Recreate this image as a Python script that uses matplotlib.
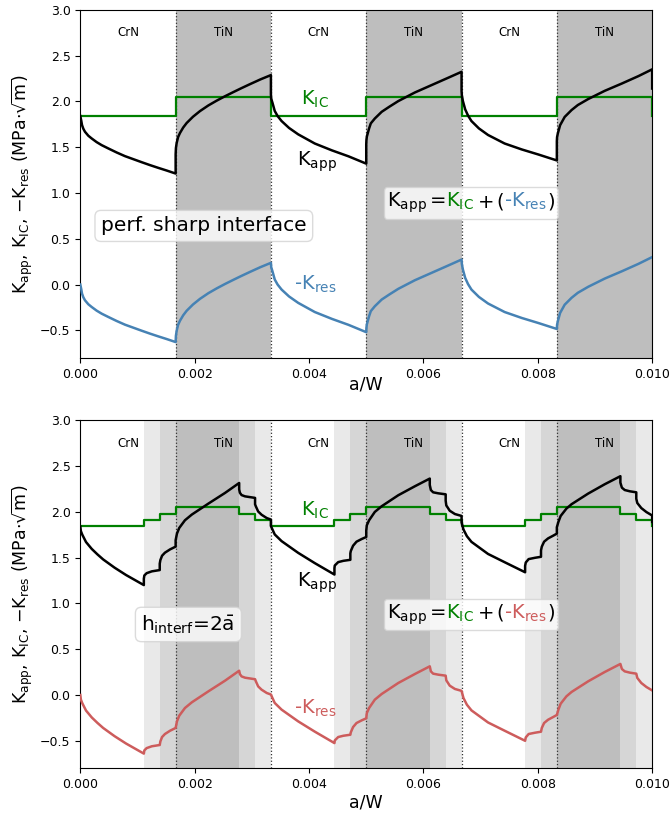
import matplotlib
matplotlib.use("Agg")
import matplotlib.pyplot as plt
import numpy as np
from matplotlib.offsetbox import TextArea, HPacker, AnnotationBbox

# layer boundaries (interfaces), a/W
interfaces = [0.001667, 0.003333, 0.005, 0.006667, 0.008333]
layer_names = ["CrN", "TiN", "CrN", "TiN", "CrN", "TiN"]
layer_centers = [0.000833, 0.0025, 0.004167, 0.005833, 0.0075, 0.009167]

# ---- top panel: perfectly sharp interface ----
top_kic = [1.84, 2.05, 1.84, 2.05, 1.84, 2.05, 1.84]
top_x = [
    [0, 0.000018, 0.00003, 0.000053, 0.000082, 0.00014, 0.000199, 0.000286, 0.000374,
     0.00049, 0.000636, 0.000781, 0.000927, 0.001073, 0.001219, 0.001364, 0.00151, 0.001667],
    [0.001667, 0.001672, 0.001685, 0.00171, 0.001743, 0.0018, 0.00186, 0.00197, 0.002093,
     0.00224, 0.002385, 0.00253, 0.002675, 0.00282, 0.002967, 0.00315, 0.003333],
    [0.003333, 0.003338, 0.00336, 0.0034, 0.00345, 0.00352, 0.00365, 0.00381, 0.0041,
     0.0044, 0.00469, 0.005],
    [0.005, 0.005003, 0.00501, 0.00505, 0.00508, 0.00515, 0.00527, 0.0054, 0.00556,
     0.00585, 0.00614, 0.00643, 0.006667],
    [0.006667, 0.006672, 0.00669, 0.00673, 0.00678, 0.00684, 0.00697, 0.00713, 0.00742,
     0.00772, 0.00801, 0.008333],
    [0.008333, 0.008337, 0.00835, 0.00839, 0.00847, 0.00859, 0.0087, 0.00888, 0.00917,
     0.00947, 0.00976, 0.01],
    [0.01],
]
top_nkres = [
    [0, -0.055, -0.099, -0.139, -0.172, -0.215, -0.245, -0.285, -0.318,
     -0.354, -0.398, -0.438, -0.471, -0.504, -0.536, -0.566, -0.595, -0.628],
    [-0.628, -0.56, -0.504, -0.44, -0.395, -0.335, -0.286, -0.218, -0.156,
     -0.094, -0.042, 0.006, 0.051, 0.095, 0.138, 0.19, 0.237],
    [0.237, 0.19, 0.145, 0.055, 0.0, -0.055, -0.13, -0.20, -0.30,
     -0.375, -0.44, -0.52],
    [-0.52, -0.475, -0.436, -0.345, -0.29, -0.237, -0.164, -0.11, -0.047,
     0.047, 0.127, 0.207, 0.273],
    [0.273, 0.225, 0.164, 0.073, 0.005, -0.055, -0.135, -0.207, -0.30,
     -0.365, -0.42, -0.485],
    [-0.485, -0.44, -0.40, -0.31, -0.22, -0.145, -0.09, -0.025, 0.065,
     0.145, 0.226, 0.30],
    [0.30],
]

# ---- bottom panel: graded interface h_interf = 2 a_bar ----
# grading level: 0 = CrN, 1/2 = graded steps, 3 = TiN
bot_level = [0, 1, 2, 3, 2, 1, 0, 1, 2, 3, 2, 1, 0, 1, 2, 3, 2, 1, 0]
bot_kic = [1.84, 1.91, 1.98, 2.05, 1.98, 1.91, 1.84, 1.91, 1.98, 2.05, 1.98, 1.91,
           1.84, 1.91, 1.98, 2.05, 1.98, 1.91, 1.84]
bot_x = [
    [0, 0.00001, 0.000035, 0.0001, 0.0002, 0.0003, 0.0004, 0.0006, 0.0008, 0.001111],
    [0.001111, 0.00112, 0.00116, 0.00125, 0.001389],
    [0.001389, 0.0014, 0.00143, 0.00148, 0.00157, 0.001667],
    [0.001667, 0.00169, 0.00173, 0.00183, 0.00195, 0.00224, 0.00253, 0.002778],
    [0.002778, 0.00279, 0.00282, 0.00288, 0.003056],
    [0.003056, 0.00307, 0.00311, 0.00317, 0.00326, 0.003333],
    [0.003333, 0.00336, 0.0034, 0.00352, 0.00381, 0.0041, 0.004444],
    [0.004444, 0.00445, 0.00451, 0.0046, 0.004722],
    [0.004722, 0.00473, 0.00477, 0.00483, 0.00492, 0.005],
    [0.005, 0.00501, 0.00505, 0.00515, 0.00527, 0.00556, 0.00585, 0.006111],
    [0.006111, 0.00613, 0.00617, 0.00626, 0.006389],
    [0.006389, 0.0064, 0.00646, 0.00655, 0.006667],
    [0.006667, 0.0067, 0.00676, 0.00684, 0.00713, 0.00742, 0.007778],
    [0.007778, 0.00779, 0.00784, 0.00795, 0.008056],
    [0.008056, 0.00807, 0.00811, 0.00818, 0.00827, 0.008333],
    [0.008333, 0.00836, 0.0084, 0.0085, 0.00859, 0.00888, 0.00917, 0.009444],
    [0.009444, 0.00947, 0.00952, 0.00961, 0.009722],
    [0.009722, 0.00974, 0.00981, 0.0099, 0.01],
    [0.01],
]
bot_nkres = [
    [0, -0.05, -0.09, -0.17, -0.245, -0.305, -0.36, -0.45, -0.53, -0.64],
    [-0.64, -0.605, -0.58, -0.56, -0.546],
    [-0.546, -0.507, -0.459, -0.426, -0.39, -0.36],
    [-0.36, -0.288, -0.226, -0.142, -0.08, 0.04, 0.156, 0.265],
    [0.265, 0.229, 0.203, 0.189, 0.172],
    [0.172, 0.149, 0.094, 0.058, 0.022, 0.005],
    [0.005, -0.033, -0.087, -0.16, -0.288, -0.40, -0.525],
    [-0.525, -0.496, -0.459, -0.445, -0.434],
    [-0.434, -0.408, -0.35, -0.306, -0.277, -0.255],
    [-0.255, -0.197, -0.142, -0.051, 0.011, 0.131, 0.229, 0.313],
    [0.313, 0.258, 0.233, 0.222, 0.211],
    [0.211, 0.16, 0.102, 0.066, 0.045],
    [0.045, -0.033, -0.106, -0.168, -0.30, -0.39, -0.50],
    [-0.50, -0.463, -0.426, -0.412, -0.401],
    [-0.401, -0.36, -0.306, -0.27, -0.24, -0.218],
    [-0.218, -0.16, -0.095, -0.015, 0.033, 0.149, 0.251, 0.339],
    [0.339, 0.284, 0.258, 0.244, 0.233],
    [0.233, 0.186, 0.131, 0.087, 0.05],
    [0.05],
]

level_colors = {1: "#e9e9e9", 2: "#d6d6d6", 3: "#bebebe"}


def curves(seg_x, seg_nk, seg_kic):
    x, nk, kic = [], [], []
    for xs, ns, k in zip(seg_x, seg_nk, seg_kic):
        x += xs
        nk += ns
        kic += [k] * len(xs)
    x = np.array(x)
    nk = np.array(nk)
    kic = np.array(kic)
    return x, nk, kic, kic + nk


def formula_box(ax, xy, res_color):
    parts = [("K$_\\mathrm{app}$$\\,$=$\\,$", "black"), ("K$_\\mathrm{IC}$", "green"),
             ("$\\,$+$\\,$(", "black"), ("-K$_\\mathrm{res}$", res_color), (")", "black")]
    areas = [TextArea(t, textprops=dict(color=c, fontsize=14)) for t, c in parts]
    box = HPacker(children=areas, align="baseline", pad=0, sep=0)
    ab = AnnotationBbox(box, xy, xycoords="data", frameon=True, pad=0.25,
                        bboxprops=dict(boxstyle="round,pad=0.25", fc="white",
                                       ec="lightgray", alpha=0.8))
    ax.add_artist(ab)


def setup(ax, xpad):
    for xi in interfaces:
        ax.axvline(xi, color="#333333", ls=":", lw=0.9, zorder=1)
    for name, xc in zip(layer_names, layer_centers):
        ax.text(xc, 2.75, name, ha="center", va="center", fontsize=8.5)
    ax.set_xlim(0, 0.01)
    ax.set_ylim(-0.8, 3.0)
    ax.set_xticks([0, 0.002, 0.004, 0.006, 0.008, 0.010])
    ax.set_xticklabels(["0.000", "0.002", "0.004", "0.006", "0.008", "0.010"])
    ax.tick_params(labelsize=9)
    ax.set_xlabel("a/W", fontsize=12.5, labelpad=xpad)
    ax.set_ylabel("K$_\\mathrm{app}$, K$_\\mathrm{IC}$, $-$K$_\\mathrm{res}$ (MPa$\\cdot\\sqrt{\\mathrm{m}}$)",
                  fontsize=12.5)


line_kw = dict(solid_joinstyle="round", zorder=3)

fig = plt.figure(figsize=(6.72, 8.16), dpi=100)
ax1 = fig.add_axes([0.1195, 0.5615, 0.851, 0.4265])
ax2 = fig.add_axes([0.1195, 0.0585, 0.851, 0.4265])

# top panel
for i, name in enumerate(layer_names):
    if name == "TiN":
        ax1.axvspan(i * 0.0016667, (i + 1) * 0.0016667, color="#bebebe", lw=0, zorder=0)
x, nk, kic, kapp = curves(top_x, top_nkres, top_kic)
ax1.plot(x, kic, color="green", lw=1.6, **line_kw)
ax1.plot(x, kapp, color="black", lw=1.8, **line_kw)
ax1.plot(x, nk, color="#4682b4", lw=1.8, **line_kw)
setup(ax1, -3.5)
ax1.text(0.0041, 2.02, "K$_\\mathrm{IC}$", color="green", fontsize=14, ha="center", va="center")
ax1.text(0.00414, 1.34, "K$_\\mathrm{app}$", color="black", fontsize=14, ha="center", va="center")
ax1.text(0.0041, 0.0, "-K$_\\mathrm{res}$", color="#4682b4", fontsize=14, ha="center", va="center")
ax1.text(0.00216, 0.64, "perf. sharp interface", fontsize=14.5, ha="center", va="center",
         bbox=dict(boxstyle="round,pad=0.3", fc="white", ec="lightgray", alpha=0.8))
formula_box(ax1, (0.00683, 0.89), "#4682b4")

# bottom panel
for xs, lev in zip(bot_x, bot_level):
    if lev > 0:
        ax2.axvspan(xs[0], xs[-1], color=level_colors[lev], lw=0, zorder=0)
x, nk, kic, kapp = curves(bot_x, bot_nkres, bot_kic)
ax2.plot(x, kic, color="green", lw=1.6, **line_kw)
ax2.plot(x, kapp, color="black", lw=1.8, **line_kw)
ax2.plot(x, nk, color="#cd5c5c", lw=1.8, **line_kw)
setup(ax2, 2)
ax2.text(0.0041, 2.02, "K$_\\mathrm{IC}$", color="green", fontsize=14, ha="center", va="center")
ax2.text(0.00414, 1.23, "K$_\\mathrm{app}$", color="black", fontsize=14, ha="center", va="center")
ax2.text(0.0041, -0.15, "-K$_\\mathrm{res}$", color="#cd5c5c", fontsize=14, ha="center", va="center")
ax2.text(0.00189, 0.77, "h$_\\mathrm{interf}$=2$\\bar{\\mathrm{a}}$", fontsize=14.5, ha="center", va="center",
         bbox=dict(boxstyle="round,pad=0.3", fc="white", ec="lightgray", alpha=0.8))
formula_box(ax2, (0.00683, 0.88), "#cd5c5c")

fig.savefig("out.png", dpi=100)
